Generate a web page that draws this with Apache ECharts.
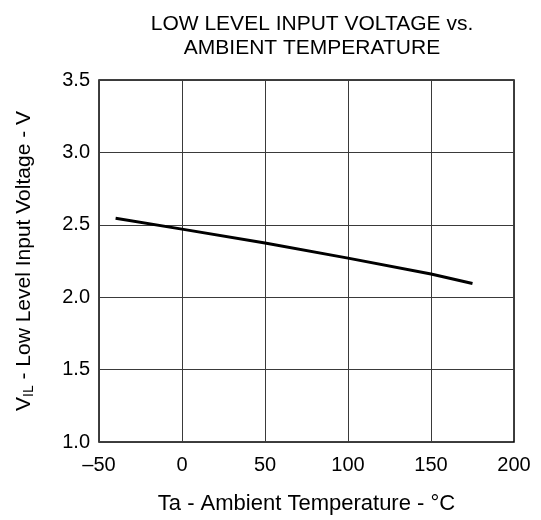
<!DOCTYPE html>
<html>
<head>
<meta charset="utf-8">
<script src="https://cdn.jsdelivr.net/npm/echarts@6/dist/echarts.min.js"></script>
<style>
  html, body { margin: 0; padding: 0; background: #fff; }
  #chart { width: 541px; height: 520px; }
</style>
</head>
<body>
<div id="chart"></div>
<script>
// Low level input voltage vs ambient temperature
const temperatures = [-40, 0, 50, 100, 150, 175];
const vilValues = [2.545, 2.47, 2.375, 2.27, 2.16, 2.095];
const xTicks = [-50, 0, 50, 100, 150, 200];
const yTicks = [1.0, 1.5, 2.0, 2.5, 3.0, 3.5];

const FONT = '"Liberation Sans", Arial, sans-serif';
const chart = echarts.init(document.getElementById('chart'), null, { renderer: 'canvas' });

chart.setOption({
  animation: false,
  backgroundColor: '#ffffff',
  title: {
    text: 'LOW LEVEL INPUT VOLTAGE vs.\nAMBIENT TEMPERATURE',
    left: 307,
    textAlign: 'center',
    top: 7,
    textStyle: { fontFamily: FONT, fontSize: 21, fontWeight: 'normal', color: '#000', lineHeight: 24 }
  },
  grid: {
    left: 99, right: 27, top: 80, bottom: 78,
    show: true, borderColor: '#000', borderWidth: 1.5, backgroundColor: 'transparent'
  },
  xAxis: {
    type: 'value',
    min: xTicks[0], max: xTicks[xTicks.length - 1], interval: 50,
    name: 'Ta - Ambient Temperature - °C',
    nameLocation: 'middle', nameGap: 51,
    nameTextStyle: { fontFamily: FONT, fontSize: 22, color: '#000' },
    axisLine: { show: false },
    axisTick: { show: false },
    axisLabel: {
      fontFamily: FONT, fontSize: 20, color: '#000', margin: 13,
      formatter: v => (v < 0 ? '\u2013' + Math.abs(v) : String(v))
    },
    splitLine: { show: true, lineStyle: { color: '#3a3a3a', width: 1 } }
  },
  yAxis: {
    type: 'value',
    min: yTicks[0], max: yTicks[yTicks.length - 1], interval: 0.5,
    name: 'V{sub|IL} - Low Level Input Voltage - V',
    nameLocation: 'middle', nameGap: 63, nameRotate: 90,
    nameTextStyle: {
      fontFamily: FONT, fontSize: 21, color: '#000',
      rich: { sub: { fontFamily: FONT, fontSize: 14, color: '#000', verticalAlign: 'bottom', padding: [10, 0, 0, 0] } }
    },
    axisLine: { show: false },
    axisTick: { show: false },
    axisLabel: {
      fontFamily: FONT, fontSize: 20, color: '#000', margin: 9,
      formatter: v => v.toFixed(1)
    },
    splitLine: { show: true, lineStyle: { color: '#3a3a3a', width: 1 } }
  },
  series: [{
    type: 'line',
    data: temperatures.map((t, i) => [t, vilValues[i]]),
    showSymbol: false,
    smooth: false,
    lineStyle: { color: '#000', width: 3 }
  }]
});
</script>
</body>
</html>
